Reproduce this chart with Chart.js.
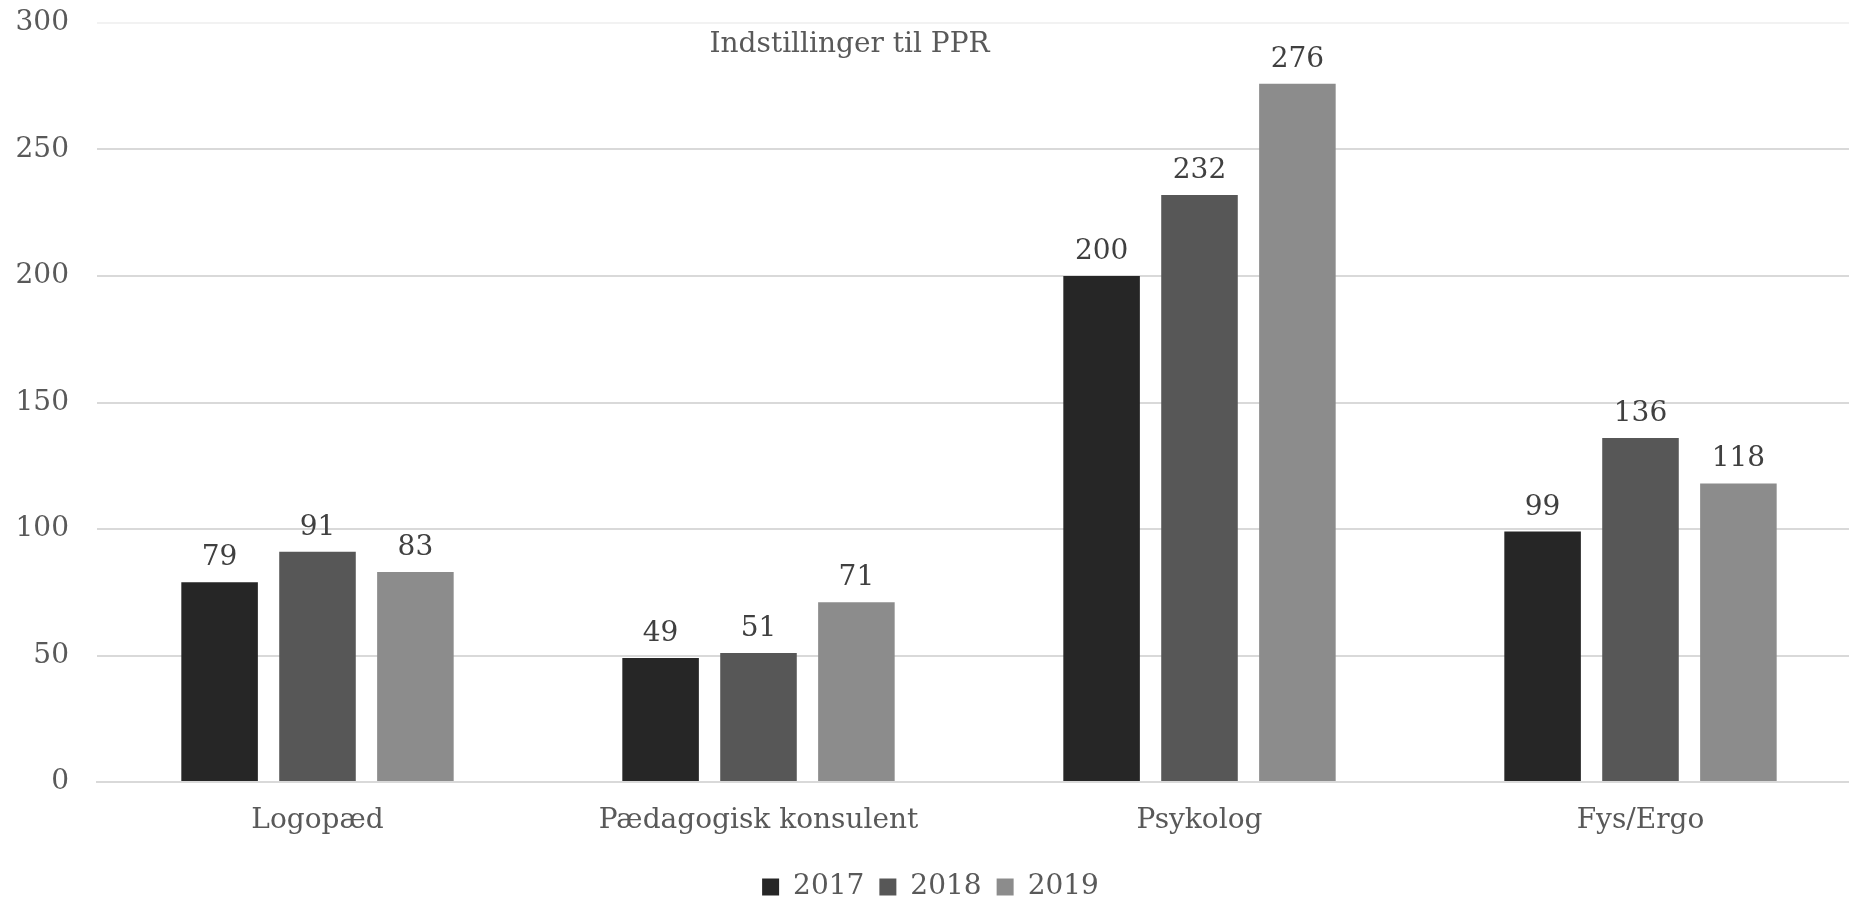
<!DOCTYPE html>
<html>
<head>
<meta charset="utf-8">
<script src="https://cdn.jsdelivr.net/npm/chart.js@4"></script>
<style>
  html, body { margin: 0; padding: 0; background: #fff; overflow: hidden; }
  /* the original is cropped a few pixels on the right, so the canvas is a bit wider than the page */
  #wrap { width: 1849px; height: 899px; overflow: hidden; }
</style>
</head>
<body>
<div id="wrap"><canvas id="myChart" width="1861" height="899"></canvas></div>
<script>
var categories = ['Logopæd', 'Pædagogisk konsulent', 'Psykolog', 'Fys/Ergo'];
var years = ['2017', '2018', '2019'];
var values2017 = [79, 49, 200, 99];
var values2018 = [91, 51, 232, 136];
var values2019 = [83, 71, 276, 118];
var colors = ['#262626', '#575757', '#8c8c8c'];
var chartTitle = 'Indstillinger til PPR';

var fontFamily = '"DejaVu Serif", Georgia, serif';

// value labels above each bar
var valueLabels = {
    id: 'valueLabels',
    afterDatasetsDraw: function(chart) {
        var ctx = chart.ctx;
        ctx.save();
        ctx.font = '28px ' + fontFamily;
        ctx.fillStyle = '#404040';
        ctx.textAlign = 'center';
        ctx.textBaseline = 'alphabetic';
        chart.data.datasets.forEach(function(ds, i) {
            chart.getDatasetMeta(i).data.forEach(function(bar, j) {
                ctx.fillText(ds.data[j], bar.x, bar.y - 17);
            });
        });
        ctx.restore();
    }
};

// title sits inside the plot, a bit left of center
var innerTitle = {
    id: 'innerTitle',
    afterDraw: function(chart) {
        var ctx = chart.ctx;
        ctx.save();
        ctx.font = '28px ' + fontFamily;
        ctx.fillStyle = '#595959';
        ctx.textAlign = 'center';
        ctx.textBaseline = 'alphabetic';
        ctx.fillText(chartTitle, chart.width * 0.4565, chart.chartArea.top + 29);
        ctx.restore();
    }
};

var ctx = document.getElementById('myChart').getContext('2d');

var myChart = new Chart(ctx, {
    type: 'bar',
    data: {
        labels: categories,
        datasets: [{
            label: years[0],
            data: values2017,
            backgroundColor: colors[0]
        }, {
            label: years[1],
            data: values2018,
            backgroundColor: colors[1]
        }, {
            label: years[2],
            data: values2019,
            backgroundColor: colors[2]
        }]
    },
    plugins: [valueLabels, innerTitle],
    options: {
        responsive: false,
        animation: false,
        layout: {
            padding: { top: 23, right: 0, left: 0, bottom: -12 }
        },
        datasets: {
            bar: {
                categoryPercentage: 0.666,
                barPercentage: 0.782
            }
        },
        scales: {
            x: {
                afterFit: function(scale) { scale.height = 76; },
                grid: { display: false, drawTicks: false },
                border: { color: '#d9d9d9', width: 2 },
                ticks: {
                    color: '#595959',
                    font: { family: fontFamily, size: 28 },
                    padding: 22
                }
            },
            y: {
                min: 0,
                max: 300,
                afterFit: function(scale) {
                    scale.width = 97;
                    scale.paddingTop = 0;
                    scale.paddingBottom = 0;
                },
                grid: {
                    drawTicks: false,
                    lineWidth: 2,
                    color: function(c) {
                        return c.tick && c.tick.value === 300 ? '#f2f2f2' : '#d9d9d9';
                    }
                },
                border: { display: false },
                ticks: {
                    stepSize: 50,
                    color: '#595959',
                    font: { family: fontFamily, size: 28 },
                    padding: 28
                }
            }
        },
        plugins: {
            legend: {
                position: 'bottom',
                labels: {
                    color: '#595959',
                    font: { family: fontFamily, size: 28 },
                    boxWidth: 17,
                    boxHeight: 17,
                    padding: 15
                }
            },
            tooltip: { enabled: false },
            title: { display: false }
        }
    }
});
</script>
</body>
</html>
